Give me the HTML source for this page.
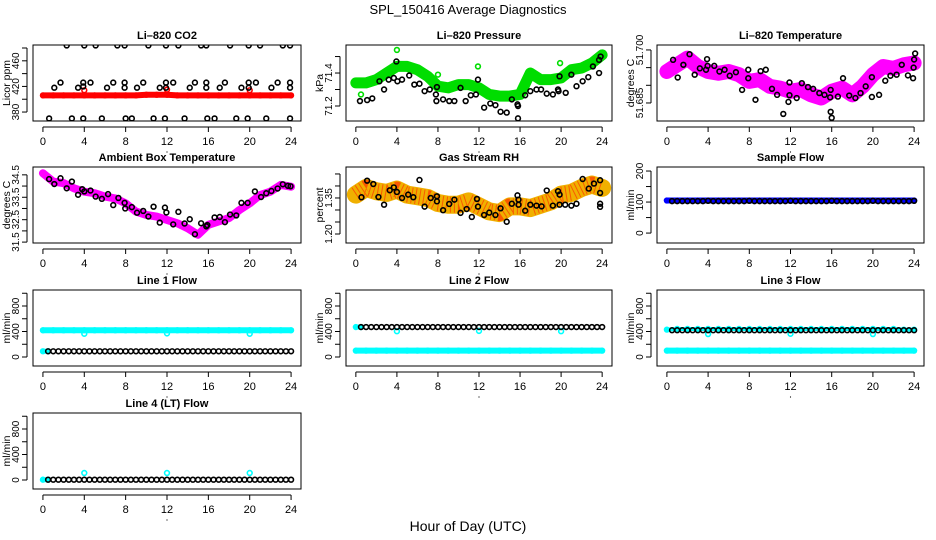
<!DOCTYPE html>
<html><head><meta charset="utf-8">
<style>
html,body{margin:0;padding:0;background:#fff;}
svg{display:block;font-family:"Liberation Sans",Arial,sans-serif;}
</style></head>
<body>
<svg id="chart" width="936" height="540" viewBox="0 0 936 540" xmlns="http://www.w3.org/2000/svg">
<text x="468" y="14" text-anchor="middle" font-size="13">SPL_150416  Average Diagnostics</text>
<text x="468" y="531" text-anchor="middle" font-size="14">Hour of Day (UTC)</text>
</svg>
<script>
// ---- data ----
const HOURS = [0,1,2,3,4,5,6,7,8,9,10,11,12,13,14,15,16,17,18,19,20,21,22,23,24];
const HALF = [0.5,1,1.5,2,2.5,3,3.5,4,4.5,5,5.5,6,6.5,7,7.5,8,8.5,9,9.5,10,10.5,11,11.5,12,12.5,13,13.5,14,14.5,15,15.5,16,16.5,17,17.5,18,18.5,19,19.5,20,20.5,21,21.5,22,22.5,23,23.5,24];
const X_TICKS = [0,4,8,12,16,20,24];
const SPIKE_HOURS = [4,12,20];

// CO2
const co2Red = [406,406,406,406,406,406,406,406,406,406,407,407,407,406,406,406,406,406,406,406,406,406,406,406,406];
const co2RedSpikes = [414,415,414];
const co2BlkX = [2.3,4.0,5.1,7.2,7.9,10.2,11.9,13.1,15.3,15.8,18.1,19.9,21.0,23.2,23.9, 1.1,3.4,3.9,6.2,7.9,9.1,11.3,11.9,14.2,15.8,17.1,19.2,19.9,22.1,23.9, 1.7,3.9,4.6,6.8,7.9,9.7,11.9,12.6,14.7,15.8,17.6,19.9,20.6,22.7,23.9, 0.6,2.8,3.9,5.7,8.0,8.6,10.7,11.8,13.7,15.9,16.6,18.7,19.8,21.6,23.9];
const co2BlkY = [484,484,484,484,484,484,484,484,484,484,484,484,484,484,484, 418,418,420,418,418,418,418,418,418,418,418,418,418,418,418, 426,426,426,426,426,426,426,426,426,426,426,426,426,426,426, 370,370,370,370,370,370,370,370,370,370,370,370,370,370,370];

// Pressure
const presGreen = [71.34,71.34,71.36,71.40,71.44,71.44,71.42,71.38,71.32,71.31,71.33,71.33,71.31,71.27,71.26,71.26,71.27,71.40,71.36,71.36,71.37,71.42,71.43,71.46,71.51];
const presGreenOutX = [4.0,8.0,11.9,19.9,0.5];
const presGreenOutY = [71.54,71.39,71.44,71.46,71.27];
const presBlkX = [0.4,1.1,1.6,2.3,2.75,3.2,3.7,3.95,4.05,4.5,5.2,5.7,6.2,6.7,7.2,7.8,7.85,7.9,8.5,9.1,9.6,10.2,10.7,11.2,11.7,11.9,12.5,13.1,13.6,14.1,14.7,15.2,15.75,15.8,15.8,16.5,17,17.6,18.05,18.6,19.2,19.7,19.75,19.85,20.45,21.0,21.5,22.1,22.65,23.1,23.7,23.7,23.85];
const presBlkY = [71.23,71.236,71.246,71.35,71.30,71.36,71.37,71.47,71.35,71.36,71.385,71.33,71.335,71.29,71.30,71.27,71.23,71.315,71.24,71.23,71.23,71.31,71.23,71.265,71.27,71.36,71.19,71.215,71.205,71.165,71.16,71.24,71.21,71.20,71.125,71.265,71.29,71.30,71.30,71.275,71.27,71.30,71.29,71.38,71.28,71.39,71.32,71.35,71.375,71.44,71.40,71.48,71.50];

// Li-820 temperature
const ltMag = [51.6939,51.6958,51.6977,51.6953,51.6939,51.6934,51.6939,51.6930,51.6911,51.6916,51.6897,51.6892,51.6883,51.6888,51.6873,51.6864,51.6883,51.6892,51.6873,51.6897,51.6930,51.6953,51.6948,51.6958,51.6963];
const ltBlkX = [0.6,1.05,1.6,2.2,2.7,3.2,3.8,3.9,3.95,4.6,5.1,5.6,6.1,6.7,7.3,7.9,7.9,8.6,9.1,9.6,10.2,10.7,11.3,11.8,11.9,11.9,12.6,13.1,13.7,14.2,14.8,15.3,15.85,15.9,15.9,16.0,16.6,17.1,17.7,18.3,18.8,19.3,19.9,19.9,20.6,21.2,21.7,22.3,22.8,23.4,23.9,23.95,24.0,24.1];
const ltBlkY = [51.6972,51.6922,51.6958,51.6988,51.6930,51.6948,51.6944,51.6974,51.6955,51.6955,51.6939,51.6944,51.6927,51.6937,51.6887,51.6920,51.6944,51.6859,51.6940,51.6944,51.6890,51.6873,51.6819,51.6853,51.6872,51.6908,51.6864,51.6906,51.6895,51.6890,51.6878,51.6873,51.6866,51.6887,51.6825,51.6808,51.6868,51.6920,51.6871,51.6864,51.6878,51.6897,51.6867,51.6923,51.6873,51.6913,51.6927,51.6930,51.6958,51.6928,51.6920,51.6950,51.6973,51.6990];

// Ambient
const ambMag = [34.57,34.20,34.13,33.90,33.75,33.68,33.53,33.45,33.23,32.86,32.71,32.64,32.49,32.34,32.12,31.83,32.27,32.42,32.57,32.93,33.23,33.60,33.75,34.05,33.97];
const ambBlkX = [0.6,1.1,1.7,2.3,2.8,3.4,3.8,4.0,4.6,5.1,5.7,6.3,6.8,7.3,7.9,7.96,8.6,9.1,9.7,10.2,10.7,11.3,11.8,11.94,12.6,13.1,13.7,14.2,14.7,15.3,15.8,15.9,16.6,17.1,17.6,18.1,18.7,19.2,19.8,20.5,21.1,21.6,22.1,22.7,23.2,23.7,23.95];
const ambBlkY = [34.31,34.09,34.35,33.90,34.20,33.61,33.86,33.76,33.80,33.53,33.43,33.64,33.15,33.47,33.25,33.00,33.06,32.81,32.89,32.64,33.08,32.37,33.04,32.82,32.29,32.85,32.33,32.52,31.85,32.34,32.20,32.26,32.60,32.62,32.39,32.73,32.69,33.25,33.25,33.76,33.51,33.68,33.78,33.89,34.08,34.01,33.99];

// Gas stream RH
const rhBand = [1.364,1.392,1.378,1.371,1.385,1.364,1.357,1.350,1.329,1.322,1.322,1.336,1.315,1.294,1.287,1.315,1.315,1.308,1.322,1.336,1.364,1.371,1.392,1.406,1.392];
const rhBlkX = [0.55,1.1,1.7,2.2,2.75,3.3,3.7,4.0,4.5,5.1,5.6,6.2,6.7,7.3,7.9,7.9,8.5,9.1,9.6,10.2,10.8,11.3,11.8,11.9,12.5,13.0,13.6,14.1,14.7,15.2,15.75,15.85,15.85,16.5,17.0,17.6,18.1,18.6,19.2,19.7,19.85,19.85,20.4,21.0,21.5,22.1,22.7,23.2,23.8,23.8,23.8,23.8];
const rhBlkY = [1.353,1.422,1.408,1.354,1.322,1.382,1.394,1.375,1.350,1.364,1.353,1.425,1.314,1.350,1.357,1.336,1.299,1.325,1.343,1.288,1.304,1.271,1.346,1.314,1.279,1.289,1.279,1.307,1.251,1.326,1.361,1.343,1.322,1.297,1.322,1.318,1.315,1.381,1.318,1.378,1.364,1.322,1.322,1.318,1.326,1.429,1.389,1.410,1.424,1.371,1.326,1.313];

// Sample flow
const sfBlue = [105,105,105,105,105,105,105,105,105,105,105,105,105,105,105,105,105,105,105,105,105,105,105,105,105];
const sfBlk = [103,103,103,103,103,103,103,104,103,103,103,103,103,103,103,104,103,103,103,103,103,103,103,104,103,103,103,103,103,103,103,104,103,103,103,103,103,103,103,104,103,103,103,103,103,103,103,104];

// Line flows
const l1Cyan = [420,420,420,420,420,420,420,420,420,420,420,420,420,420,420,420,420,420,420,420,420,420,420,420,420];
const l1CyanDip = [365,370,365];
const l1Blk = [90,90,90,90,90,90,90,90,90,90,90,90,90,90,90,90,90,90,90,90,90,90,90,90,90,90,90,90,90,90,90,90,90,90,90,90,90,90,90,90,90,90,90,90,90,90,90,90];
const l2CyanLow = [100,100,100,100,100,100,100,100,100,100,100,100,100,100,100,100,100,100,100,100,100,100,100,100,100];
const l2CyanDip = [405,410,405];
const l2Blk = [470,470,470,470,470,470,470,470,470,470,470,470,470,470,470,470,470,470,470,470,470,470,470,470,470,470,470,470,470,470,470,470,470,470,470,470,470,470,470,470,470,470,470,470,470,470,470,470];
const l3CyanLow = [100,100,100,100,100,100,100,100,100,100,100,100,100,100,100,100,100,100,100,100,100,100,100,100,100];
const l3CyanHigh = [430,440,440,440,440,440,440,440,440,440,440,440,440,440,440,440,440,440,440,440,440,440,440,430,430];
const l3CyanDip = [360,365,360];
const l3Blk = [420,420,420,420,420,420,420,420,420,420,420,420,420,420,420,420,420,420,420,420,420,420,420,420,420,420,420,420,420,420,420,420,420,420,420,420,420,420,420,420,420,420,420,420,420,420,420,420];
const l4Blk = [5,5,5,5,5,5,5,5,5,5,5,5,5,5,5,5,5,5,5,5,5,5,5,5,5,5,5,5,5,5,5,5,5,5,5,5,5,5,5,5,5,5,5,5,5,5,5,5];
const l4CyanSpike = [110,110,110];

// ---- drawing ----
const svg = document.getElementById('chart');
const NS = 'http://www.w3.org/2000/svg';
function mk(tag, attrs, parent){ const e=document.createElementNS(NS,tag); for(const k in attrs) e.setAttribute(k,attrs[k]); (parent||svg).appendChild(e); return e; }

const COLS=[[33,301],[346,612],[657,924]];
const ROWS=[[45,121],[167,243],[290,366],[413,489]];

function panel(cfg){
  const [x0,x1]=COLS[cfg.c], [y0,y1]=ROWS[cfg.r];
  const g=mk('g',{});
  
  
  const xr=[-0.96,24.96];
  const X=v=>x0+(v-xr[0])/(xr[1]-xr[0])*(x1-x0);
  const Y=v=>y1-(v-cfg.yl[0])/(cfg.yl[1]-cfg.yl[0])*(y1-y0);
  const clipId='clip'+cfg.name;
  const cp=mk('clipPath',{id:clipId},g); mk('rect',{x:x0,y:y0,width:x1-x0,height:y1-y0},cp);
  const plot=mk('g',{'clip-path':'url(#'+clipId+')'},g);
  cfg.draw(plot,X,Y);
  const box=mk('rect',{x:x0,y:y0,width:x1-x0,height:y1-y0,fill:'none',stroke:'#000','stroke-width':1},g);
  
  
  const t=mk('text',{x:(x0+x1)/2,y:y0-6,'text-anchor':'middle','font-size':11,'font-weight':'bold'},g);
  t.textContent=cfg.title;
  
  
  // x axis
  mk('line',{x1:X(0),x2:X(24),y1:y1+6,y2:y1+6,stroke:'#000'},g);
  X_TICKS.forEach(v=>{
    mk('line',{x1:X(v),x2:X(v),y1:y1+6,y2:y1+11,stroke:'#000'},g);
    const tl=mk('text',{x:X(v),y:y1+24,'text-anchor':'middle','font-size':11},g);
    tl.textContent=v;
    
    
  });
  mk('circle',{cx:(x0+x1)/2,cy:y1+31,r:0.6,fill:'#000'},g);
  // y axis
  const ax=x0-6;
  mk('line',{x1:ax,x2:ax,y1:Y(cfg.yt[0]),y2:Y(cfg.yt[cfg.yt.length-1]),stroke:'#000'},g);
  cfg.yt.forEach(v=>mk('line',{x1:ax-5,x2:ax,y1:Y(v),y2:Y(v),stroke:'#000'},g));
  cfg.ylab.forEach(v=>{
    const yl=mk('text',{x:0,y:0,'text-anchor':'middle','font-size':10,transform:`translate(${ax-8},${Y(v)}) rotate(-90)`},g);
    yl.textContent=cfg.fmt?cfg.fmt(v):v;
    
    
  });
  const yt=mk('text',{x:0,y:0,'text-anchor':'middle','font-size':10.5,transform:`translate(${x0-23},${(y0+y1)/2}) rotate(-90)`},g);
  yt.textContent=cfg.ytitle;
  
  
}

function band(p,X,Y,xs,ys,color,w,name){
  const pl=mk('polyline',{points:xs.map((x,i)=>X(x)+','+Y(ys[i])).join(' '),fill:'none',stroke:color,'stroke-width':w,'stroke-linejoin':'round','stroke-linecap':'round'},p);
  
  
  xs.forEach((x,i)=>mk('circle',{cx:X(x),cy:Y(ys[i]),r:2.4,fill:'none',stroke:color,'stroke-width':1.5},p));
}
function pts(p,X,Y,xs,ys,color,name,r){
  xs.forEach((x,i)=>{
    const c=mk('circle',{cx:X(x),cy:Y(ys[i]),r:r||2.4,fill:'none',stroke:color,'stroke-width':1.6},p);
    
    
  });
}
const flowTicks=[0,200,400,600,800,1000], flowLab=[0,400,800];

panel({name:'co2-panel',c:0,r:0,title:'Li–820 CO2',ytitle:'Licor ppm',yl:[366,484.7],yt:[380,400,420,440,460,480],ylab:[380,420,460],
  draw:(p,X,Y)=>{ band(p,X,Y,HOURS,co2Red,'#ff0000',6,'co2-red-series'); pts(p,X,Y,SPIKE_HOURS,co2RedSpikes,'#ff0000','co2-red-spike'); pts(p,X,Y,co2BlkX,co2BlkY,'#000','co2-black-point'); }});
panel({name:'pressure-panel',c:1,r:0,title:'Li–820 Pressure',ytitle:'kPa',yl:[71.109,71.57],yt:[71.2,71.3,71.4,71.5],ylab:[71.2,71.4],fmt:v=>v.toFixed(1),
  draw:(p,X,Y)=>{ band(p,X,Y,HOURS,presGreen,'#00dd00',11,'pressure-green-series'); pts(p,X,Y,presGreenOutX,presGreenOutY,'#00dd00','pressure-green-outlier'); pts(p,X,Y,presBlkX,presBlkY,'#000','pressure-black-point'); }});
panel({name:'li-temp-panel',c:2,r:0,title:'Li–820 Temperature',ytitle:'degrees C',yl:[51.6799,51.7014],yt:[51.685,51.690,51.695,51.700],ylab:[51.685,51.700],fmt:v=>v.toFixed(3),
  draw:(p,X,Y)=>{ band(p,X,Y,HOURS,ltMag,'#ff00ff',15,'li-temp-magenta-series'); pts(p,X,Y,ltBlkX,ltBlkY,'#000','li-temp-black-point'); }});
panel({name:'ambient-panel',c:0,r:1,title:'Ambient Box Temperature',ytitle:'degrees C',yl:[31.46,34.85],yt:[31.5,32,32.5,33,33.5,34,34.5],ylab:[31.5,32.5,33.5,34.5],fmt:v=>v.toFixed(1),
  draw:(p,X,Y)=>{ band(p,X,Y,HOURS,ambMag,'#ff00ff',8,'ambient-magenta-series'); pts(p,X,Y,ambBlkX,ambBlkY,'#000','ambient-black-point'); }});
panel({name:'rh-panel',c:1,r:1,title:'Gas Stream RH',ytitle:'percent',yl:[1.1625,1.479],yt:[1.20,1.25,1.30,1.35,1.40,1.45],ylab:[1.20,1.35],fmt:v=>v.toFixed(2),
  draw:(p,X,Y)=>{ band(p,X,Y,HOURS,rhBand,'#f0b000',18,'rh-orange-series'); const b=mk('polyline',{points:HOURS.map((x,i)=>X(x)+','+Y(rhBand[i])).join(' '),fill:'none',stroke:'#ff2000','stroke-width':16,'stroke-dasharray':'1 3','stroke-linejoin':'round','opacity':0.6},p);   pts(p,X,Y,rhBlkX,rhBlkY,'#000','rh-black-point'); }});
panel({name:'sample-flow-panel',c:2,r:1,title:'Sample Flow',ytitle:'ml/min',yl:[-32,213],yt:[0,50,100,150,200],ylab:[0,100,200],
  draw:(p,X,Y)=>{ band(p,X,Y,HOURS,sfBlue,'#0000ff',6,'sample-flow-blue-series'); pts(p,X,Y,HALF,sfBlk,'#000','sample-flow-black-point'); }});
panel({name:'line1-flow-panel',c:0,r:2,title:'Line 1 Flow',ytitle:'ml/min',yl:[-141,1051],yt:flowTicks,ylab:flowLab,
  draw:(p,X,Y)=>{ band(p,X,Y,HOURS,l1Cyan,'#00ffff',6,'line1-cyan-series'); pts(p,X,Y,SPIKE_HOURS,l1CyanDip,'#00ffff','line1-cyan-dip'); band(p,X,Y,[0,0.5],[90,90],'#00ffff',5,'line1-cyan-low'); pts(p,X,Y,HALF,l1Blk,'#000','line1-black-point'); }});
panel({name:'line2-flow-panel',c:1,r:2,title:'Line 2 Flow',ytitle:'ml/min',yl:[-141,1051],yt:flowTicks,ylab:flowLab,
  draw:(p,X,Y)=>{ band(p,X,Y,HOURS,l2CyanLow,'#00ffff',6,'line2-cyan-series'); band(p,X,Y,[0,0.5],[470,470],'#00ffff',5,'line2-cyan-high'); pts(p,X,Y,SPIKE_HOURS,l2CyanDip,'#00ffff','line2-cyan-dip'); pts(p,X,Y,HALF,l2Blk,'#000','line2-black-point'); }});
panel({name:'line3-flow-panel',c:2,r:2,title:'Line 3 Flow',ytitle:'ml/min',yl:[-141,1051],yt:flowTicks,ylab:flowLab,
  draw:(p,X,Y)=>{ band(p,X,Y,HOURS,l3CyanLow,'#00ffff',6,'line3-cyan-low'); band(p,X,Y,HOURS,l3CyanHigh,'#00ffff',4,'line3-cyan-high'); pts(p,X,Y,SPIKE_HOURS,l3CyanDip,'#00ffff','line3-cyan-dip'); pts(p,X,Y,HALF,l3Blk,'#000','line3-black-point'); }});
panel({name:'line4-flow-panel',c:0,r:3,title:'Line 4 (LT) Flow',ytitle:'ml/min',yl:[-141,1051],yt:flowTicks,ylab:flowLab,
  draw:(p,X,Y)=>{ band(p,X,Y,[0,0.5],[5,5],'#00ffff',5,'line4-cyan-low'); pts(p,X,Y,SPIKE_HOURS,l4CyanSpike,'#00ffff','line4-cyan-spike'); pts(p,X,Y,HALF,l4Blk,'#000','line4-black-point'); }});
</script>
</body></html>
